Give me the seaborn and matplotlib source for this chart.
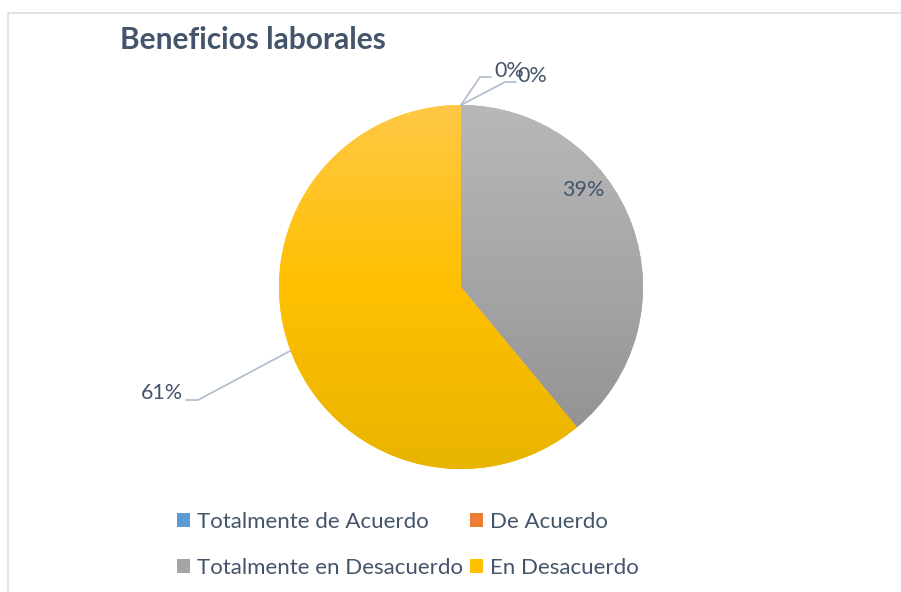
import numpy as np
import matplotlib
matplotlib.use("Agg")
import matplotlib.pyplot as plt
import seaborn as sns
from matplotlib.colors import LinearSegmentedColormap
from matplotlib.lines import Line2D

categories = ["Totalmente de Acuerdo", "De Acuerdo", "Totalmente en Desacuerdo", "En Desacuerdo"]
values = [0, 0, 39, 61]
pct_labels = ["0%", "0%", "39%", "61%"]
title = "Beneficios laborales"

sns.set_theme(style="white")
plt.rcParams['font.family'] = ['Lato', 'DejaVu Sans']

base_colors = ["#5B9BD5", "#ED7D31", "#A5A5A5", "#FFC000"]
grad = {
    2: ["#B8B8B8", "#A5A5A5", "#8E8E8E"],
    3: ["#FFC846", "#FFC000", "#E8B400"],
}
txt_color = "#44546A"
lead_color = "#B4C0D0"

W, H = 901, 592
fig = plt.figure(figsize=(W / 100, H / 100), dpi=100)
ax = fig.add_axes([0, 0, 1, 1])

cx, cy, R = 461, H - 287, 182
wedges, _ = ax.pie(values, colors=base_colors, startangle=90, counterclock=False,
                   center=(cx, cy), radius=R, wedgeprops=dict(linewidth=0),
                   frame=True)
ax.set_xlim(0, W)
ax.set_ylim(0, H)
ax.axis("off")

for i, w in enumerate(wedges):
    if i in grad:
        cmap = LinearSegmentedColormap.from_list("g%d" % i, grad[i])
        g = np.linspace(0, 1, 256).reshape(-1, 1)
        im = ax.imshow(g, cmap=cmap, extent=(cx - R, cx + R, cy - R, cy + R),
                       origin="upper", aspect="auto", zorder=w.get_zorder() + 0.1)
        im.set_clip_path(w)

# labels
fs_lab = 15.5
ax.text(583, H - 190, pct_labels[2], ha="center", va="center", fontsize=fs_lab, color=txt_color)
ax.text(183, H - 393, pct_labels[3], ha="right", va="center", fontsize=fs_lab, color=txt_color)
ax.add_line(Line2D([290, 198, 186], [H - 351, H - 400, H - 400], color=lead_color, lw=1.3))
ax.add_line(Line2D([461, 480, 491], [H - 105, H - 77, H - 77], color=lead_color, lw=1.3))
ax.add_line(Line2D([461, 505, 516], [H - 105, H - 82, H - 82], color=lead_color, lw=1.3))
ax.text(494, H - 71, pct_labels[0], ha="left", va="center", fontsize=fs_lab, color=txt_color)
ax.text(517, H - 76, pct_labels[1], ha="left", va="center", fontsize=fs_lab, color=txt_color)

ax.text(120, H - 40, title, ha="left", va="center", fontsize=21.5, fontweight="bold", color=txt_color)

# border
ax.add_line(Line2D([8, 8, W], [0, H - 13, H - 13], color="#D9DEE6", lw=1.2))

order = [0, 2, 1, 3]
leg = ax.legend([wedges[i] for i in order], [categories[i] for i in order], ncol=2,
                loc="center left",
                bbox_to_anchor=(177 / W, 1 - 545 / H), bbox_transform=fig.transFigure,
                frameon=False, fontsize=16, handlelength=0.6, handleheight=0.6,
                handletextpad=0.3, columnspacing=0.3, labelspacing=1.15, borderaxespad=0,
                borderpad=0)
for t in leg.get_texts():
    t.set_color(txt_color)

fig.savefig("out.png", dpi=100, facecolor="white")
